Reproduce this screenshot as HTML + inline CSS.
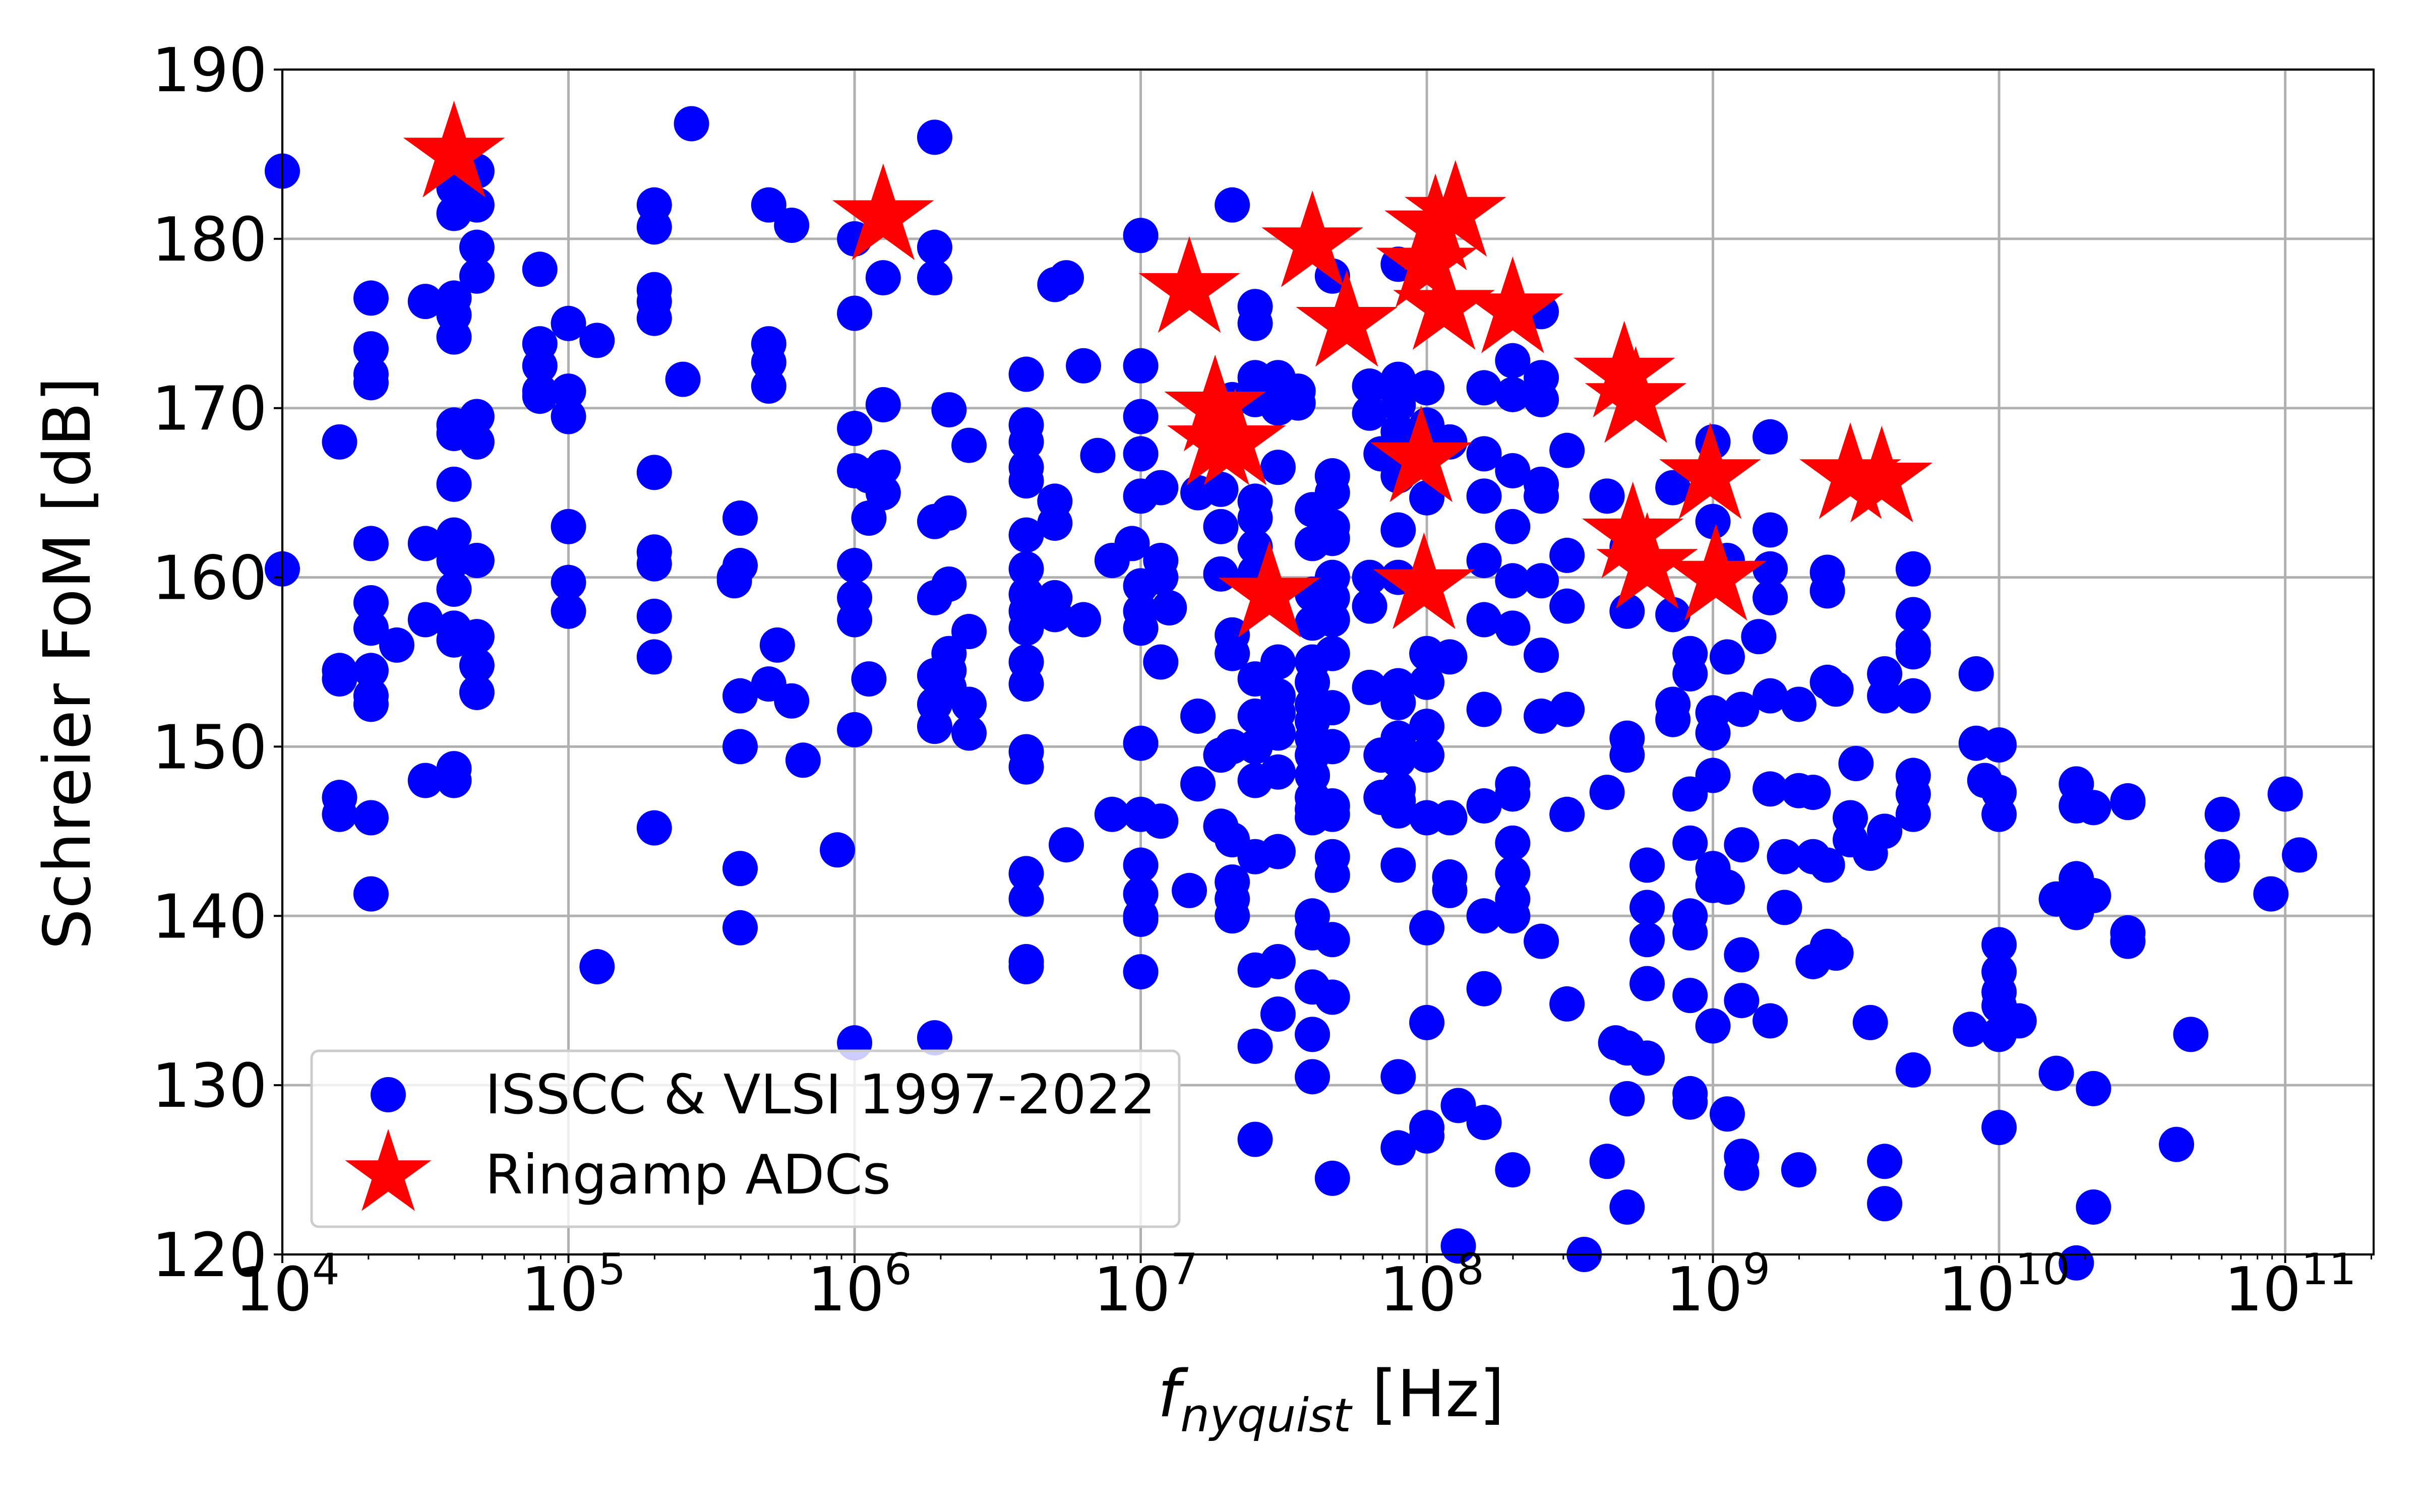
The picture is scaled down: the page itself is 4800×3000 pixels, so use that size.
<!DOCTYPE html>
<html><head><meta charset="utf-8"><style>
html,body{margin:0;padding:0;background:#fff}
svg{display:block}
text{font-family:"DejaVu Sans","Liberation Sans",sans-serif;fill:#000}
</style></head><body>
<svg id="chart" width="4800" height="3000" viewBox="0 0 4800 3000" xmlns="http://www.w3.org/2000/svg">
<g id="grid"></g>
<g id="dots"></g>
<g id="stars"></g>
<rect x="560" y="138" width="4148" height="2351" fill="none" stroke="#000" stroke-width="4"/>
<g id="axes"></g>
<g>
<rect x="618" y="2085" width="1721" height="349" rx="14" fill="#fff" fill-opacity="0.8" stroke="#cccccc" stroke-width="5"/>
<circle cx="770" cy="2172" r="35" fill="#0000ff"/>
<polygon id="legstar" fill="#ff0000"/>
<text x="962" y="2209" font-size="108">ISSCC &amp; VLSI 1997-2022</text>
<text x="962" y="2368" font-size="108">Ringamp ADCs</text>
</g>
<text transform="translate(178,1316) rotate(-90)" text-anchor="middle" font-size="128">Schreier FoM [dB]</text>
<text x="2640" y="2810" text-anchor="middle" font-size="128"><tspan font-style="italic">f</tspan><tspan font-style="italic" font-size="92" dy="30">nyquist</tspan><tspan dy="-30"> [Hz]</tspan></text>
</svg>
<script>
// data: [log10(f_nyquist), Schreier FoM dB]
const dotLogF = [];
const dotFoM = [];
const columns = [
[4.0,[184,160.5]],
[4.2,[168,154.5,154,147,146]],
[4.31,[176.5,173.5,172,171.5,162,158.5,157,154.5,153,152.5,145.8,141.3]],
[4.4,[156]],
[4.5,[176.3,162,157.5,148]],
[4.6,[183,181.5,176.5,175.5,174.2,169,168.5,165.5,162.5,161,159.3,157,156.3,148.7,148]],
[4.68,[184,182,179.5,177.8,169.5,168,161,156.5,154.8,153.2]],
[4.9,[178.2,173.8,172.5,171,170.7]],
[5.0,[175,171,169.5,163,159.7,158]],
[5.1,[174,137]],
[5.3,[182,180.7,177,176.3,175.3,166.2,161.5,160.8,157.7,155.3,145.2]],
[5.4,[171.7]],
[5.43,[186.8]],
[5.58,[160,159.8]],
[5.6,[163.5,160.7,153,150,142.8,139.3]],
[5.7,[182,173.8,172.7,171.3,153.7]],
[5.73,[156]],
[5.78,[180.8,152.7]],
[5.82,[149.2]],
[5.94,[143.9]],
[6.0,[180,175.6,168.8,166.3,160.7,158.8,157.5,151,132.5]],
[6.05,[166,163.5,154]],
[6.1,[177.7,170.2,166.5,165]],
[6.28,[186,179.5,177.7,163.3,158.8,154.2,152.5,151.2,132.8]],
[6.33,[169.9,163.8,159.6,155.5,154.5,153.5]],
[6.4,[167.8,156.8,152.5,150.8]],
[6.6,[172,169,168,166.5,165.7,162.5,160.5,159,158,157,155,153.7,149.7,148.8,142.5,141,137.3,137]],
[6.7,[177.3,164.5,163.2,158.8,157.8]],
[6.74,[177.7,144.2]],
[6.8,[172.5,157.5]],
[6.85,[167.2]],
[6.9,[161,146]],
[6.97,[162]],
[7.0,[180.2,172.5,169.5,167.3,164.8,159.5,158,157,150.2,146,143,141.3,140,139.8,136.7]],
[7.07,[165.3,161,155,145.6,160]],
[7.1,[158.2]],
[7.17,[141.5]],
[7.2,[151.8,147.8,165]],
[7.28,[165.2,163,160.2,149.5,145.3]],
[7.32,[182,170.5,156.6,155.5,150,144.5,142,141,140]],
[7.4,[176,175,171.8,170.5,164.5,163.5,161.8,160.3,154,151.8,150,148,143.5,136.8,132.3,126.8]],
[7.48,[171.8,170,166.5,155,153,152,150.8,148.5,143.8,137.3,134.2]],
[7.55,[171,170.3]],
[7.6,[164,162,159,157.3,155,153.8,152.5,151.5,150.5,149.5,148.3,147,146.3,145.8,140,139,135.8,133,130.5]],
[7.67,[177.8,166,165,163,162.3,160,158.8,157.5,155.5,152.3,150,146.5,146,143.5,142.4,138.6,135.2,124.5]],
[7.8,[171.3,169.7,160,158.3,153.5]],
[7.84,[149.5,147,167.3]],
[7.9,[178.5,171.7,170.2,168.6,166,162.8,160,153.6,152.6,150.5,149.2,147.5,146.8,146.2,143,130.5,126.3]],
[8.0,[171.2,169,164.7,155.5,153.8,151.2,149.5,145.8,139.3,133.7,127.5,127]],
[8.08,[168,155.3,145.8,141.5,142.3]],
[8.11,[128.8,120.5]],
[8.2,[140,135.7,127.8,152.2,146.5,157.5,161,164.8,167.3,171.2]],
[8.3,[172.8,170.8,166.3,163,159.8,157,147.8,147.2,144.3,142.5,141,140,125]],
[8.4,[175.7,171.8,170.5,165.5,164.8,159.8,155.4,151.8,138.5]],
[8.49,[167.5,161.3,158.3,152.2,146,134.8]],
[8.55,[120]],
[8.63,[164.8,147.3,125.5]],
[8.66,[132.5]],
[8.7,[161.8,158,150.5,149.5,132.2,129.2,122.8]],
[8.77,[143,140.5,138.6,136,131.6]],
[8.86,[151.6,152.5,157.8,165.3]],
[8.92,[155.5,154.3,147.2,144.3,140,139,135.3,129.5,129]],
[9.0,[168,163.3,152,150.8,148.3,142.8,141.8,133.5]],
[9.05,[161,155.3,141.7,128.3]],
[9.1,[152.2,144.2,137.7,135,125.8,124.8]],
[9.16,[156.5]],
[9.2,[168.3,162.8,160.5,158.8,153,147.5,133.8]],
[9.25,[143.5,140.5]],
[9.3,[152.5,147.4,125]],
[9.35,[147.3,143.5,137.3]],
[9.4,[160.3,159.2,153.8,143,138.2]],
[9.43,[153.4,137.8]],
[9.48,[145.8,144.5]],
[9.5,[149]],
[9.55,[133.7,143.7]],
[9.6,[154.3,153,145,125.5,123]],
[9.7,[160.5,157.8,156,155.6,153,148.3,147.2,146,130.9]],
[9.9,[133.3]],
[9.92,[154.3,150.2]],
[9.95,[148]],
[10.0,[150.1,147.3,146,138.3,136.7,135.5,134.7,133,127.5]],
[10.07,[133.8]],
[10.2,[141,130.7]],
[10.27,[146.5,147.8,142.2,140.2,119.5]],
[10.33,[146.4,141.2,129.8,122.8]],
[10.45,[139,138.5,146.8,146.7]],
[10.62,[126.5]],
[10.67,[133]],
[10.78,[143.5,143,146]],
[10.95,[141.3]],
[11.0,[147.2]],
[11.05,[143.6]]
];
columns.forEach(c=>c[1].forEach(v=>{dotLogF.push(c[0]);dotFoM.push(v);}));
const starLogF = [4.6,6.1,7.17,7.26,7.27,7.33,7.45,7.6,7.72,7.98,7.99,8.0,8.03,8.06,8.1,8.3,8.69,8.73,8.72,8.77,8.99,9.01,9.48,9.59];
const starFoM  = [185,181.3,177,170,168,168,159,179.7,175,167,159.5,178.5,180.7,176,181.5,175.8,172,170.5,162.5,160.7,166,160,166,165.8];
const yTicks = [120,130,140,150,160,170,180,190];
const xTickExp = [4,5,6,7,8,9,10,11];

const L=560,R=4708,T=138,B=2489,XMIN=4,XMAX=11.309,YMIN=120,YMAX=190;
const sx=v=>L+(v-XMIN)/(XMAX-XMIN)*(R-L);
const sy=v=>B-(v-YMIN)/(YMAX-YMIN)*(B-T);
const NS='http://www.w3.org/2000/svg';
function mk(tag,attrs,parent){const e=document.createElementNS(NS,tag);for(const k in attrs)e.setAttribute(k,attrs[k]);parent.appendChild(e);return e;}
const grid=document.getElementById('grid'),axes=document.getElementById('axes');
yTicks.forEach(t=>{
  const y=sy(t);
  const g=mk('line',{x1:L,x2:R,y1:y,y2:y,stroke:'#b0b0b0','stroke-width':5},grid);
  
  
  const tk=mk('line',{x1:L-17,x2:L,y1:y,y2:y,stroke:'#000','stroke-width':4},axes);
  
  
  const tx=mk('text',{x:L-30,y:y+43,'text-anchor':'end','font-size':120},axes);
  tx.textContent=t;
  
  
});
xTickExp.forEach(e=>{
  const x=sx(e);
  const g=mk('line',{x1:x,x2:x,y1:T,y2:B,stroke:'#b0b0b0','stroke-width':5},grid);
  
  
  const tk=mk('line',{x1:x,x2:x,y1:B,y2:B+17,stroke:'#000','stroke-width':4},axes);
  
  
  const tx=mk('text',{x:x+10,y:2600,'text-anchor':'middle','font-size':120},axes);
  
  
  const a=document.createElementNS(NS,'tspan');a.textContent='10';tx.appendChild(a);
  const b=document.createElementNS(NS,'tspan');b.setAttribute('dy','-52');b.setAttribute('font-size','86');b.textContent=e;tx.appendChild(b);
  for(let m=2;m<=9;m++){
    const lv=e+Math.log10(m);if(lv>XMAX)break;
    const mx=sx(lv);
    const mt=mk('line',{x1:mx,x2:mx,y1:B,y2:B+10,stroke:'#000','stroke-width':3},axes);
    
    
  }
});
const dots=document.getElementById('dots');
dotLogF.forEach((f,i)=>{
  const c=mk('circle',{cx:sx(f),cy:sy(dotFoM[i]),r:35,fill:'#0000ff'},dots);
  
  
});
function starPts(cx,cy,Ro){const Ri=Ro*0.382;let p=[];for(let k=0;k<10;k++){const r=k%2?Ri:Ro;const a=-Math.PI/2+k*Math.PI/5;p.push((cx+r*Math.cos(a)).toFixed(1)+','+(cy+r*Math.sin(a)).toFixed(1));}return p.join(' ');}
const stars=document.getElementById('stars');
starLogF.forEach((f,i)=>{
  const s=mk('polygon',{points:starPts(sx(f),sy(starFoM[i]),106),fill:'#ff0000'},stars);
  
  
});
document.getElementById('legstar').setAttribute('points',starPts(770,2330,90));
</script>
</body></html>
